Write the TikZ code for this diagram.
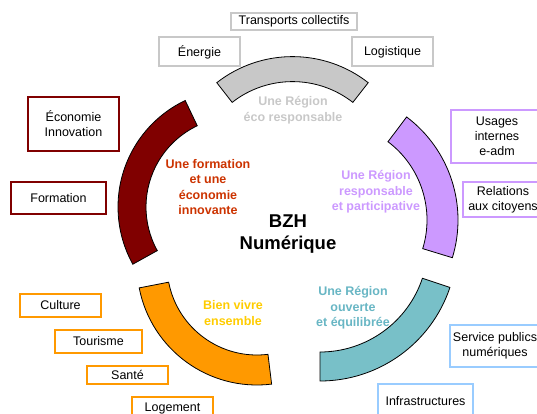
\documentclass[tikz,border=0pt]{standalone}
\usepackage{fontspec}
\setmainfont{Liberation Sans}
\definecolor{ecogray}{RGB}{200,200,200}
\definecolor{maroonarc}{RGB}{128,0,0}
\definecolor{formtext}{RGB}{204,51,0}
\definecolor{lilac}{RGB}{204,153,255}
\definecolor{orangearc}{RGB}{255,153,0}
\definecolor{goldtext}{RGB}{255,204,0}
\definecolor{tealarc}{RGB}{120,192,200}
\definecolor{tealtext}{RGB}{104,182,196}
\definecolor{skyline}{RGB}{153,204,255}
\tikzset{
  box/.style={draw, line width=2pt, fill=white, align=center, inner sep=0pt,
    font=\fontsize{12.5}{15}\selectfont},
  lbl/.style={align=center, font=\bfseries\fontsize{12.5}{15.5}\selectfont},
  seg/.style={draw=black, line width=0.8pt},
}
\begin{document}
\begin{tikzpicture}[x=1pt,y=-1pt]
\clip (0,0) rectangle (537,414);
\coordinate (cgray) at (292.5,179.6);
\coordinate (cmaroon) at (236,207);
\coordinate (corange) at (257,265);
\coordinate (cteal) at (320,244);
\coordinate (clilac) at (329,220);
\draw[seg,fill=ecogray] ([shift={(-52:123)}]cgray) arc[start angle=-52,end angle=-128,radius=123]
  -- ([shift={(-128:98)}]cgray) arc[start angle=-128,end angle=-52,radius=98] -- cycle;
\draw[seg,fill=maroonarc] ([shift={(-115.5:118)}]cmaroon) arc[start angle=-115.5,end angle=-209,radius=118]
  -- ([shift={(-209:90)}]cmaroon) arc[start angle=-209,end angle=-115.5,radius=90] -- cycle;
\draw[seg,fill=orangearc] ([shift={(-191:120)}]corange) arc[start angle=-191,end angle=-277,radius=120]
  -- ([shift={(-277:90)}]corange) arc[start angle=-277,end angle=-191,radius=90] -- cycle;
\draw[seg,fill=tealarc] ([shift={(90:137)}]cteal) arc[start angle=90,end angle=18.5,radius=137]
  -- ([shift={(18.5:108)}]cteal) arc[start angle=18.5,end angle=90,radius=108] -- cycle;
\draw[seg,fill=lilac] ([shift={(17:129)}]clilac) arc[start angle=17,end angle=-53,radius=129]
  -- ([shift={(-53:98)}]clilac) arc[start angle=-53,end angle=17,radius=98] -- cycle;

\node[lbl,text=ecogray] (eco) at (293,110) {Une Région\\éco responsable};
\node[lbl,text=formtext] (form) at (208,187) {Une formation\\et une\\économie\\innovante};
\node[lbl,text=lilac] (partic) at (376,192) {Une Région\\responsable\\et participative};
\node[lbl,text=goldtext] (vivre) at (233,313) {Bien vivre\\ensemble};
\node[lbl,text=tealtext] (ouverte) at (353,308) {Une Région\\ouverte\\et équilibrée};
\node[align=center,font=\bfseries\fontsize{18.5}{22}\selectfont] (bzh) at (288,234) {BZH\\Numérique};

\node[box,draw=ecogray,minimum width=126,minimum height=17] (transp) at (294,21.5) {Transports collectifs};
\node[box,draw=ecogray,minimum width=81,minimum height=29] (energ) at (199.5,52) {Énergie};
\node[box,draw=ecogray,minimum width=81,minimum height=29] (logist) at (392.5,52) {Logistique};
\node[box,draw=maroonarc,minimum width=91,minimum height=54] (econ) at (73.5,124) {Économie\\Innovation};
\node[box,draw=maroonarc,minimum width=95,minimum height=32] (formn) at (58.5,198) {Formation};
\node[box,draw=lilac,minimum width=92,minimum height=53] (usages) at (497,136.5) {Usages\\internes\\e-adm};
\node[box,draw=lilac,minimum width=80,minimum height=35] (relat) at (503,199.5) {Relations\\aux citoyens};
\node[box,draw=orangearc,minimum width=81,minimum height=23] (cult) at (60.5,305.5) {Culture};
\node[box,draw=orangearc,minimum width=87,minimum height=23] (tour) at (98.5,341.5) {Tourisme};
\node[box,draw=orangearc,minimum width=81,minimum height=18] (sante) at (127.5,375) {Santé};
\node[box,draw=orangearc,minimum width=81,minimum height=22] (logem) at (172.5,408) {Logement};
\node[box,draw=skyline,minimum width=90,minimum height=42] (servpub) at (495,346) {Service publics\\numériques};
\node[box,draw=skyline,minimum width=95,minimum height=34] (infra) at (425.5,401) {Infrastructures};
\end{tikzpicture}
\end{document}
